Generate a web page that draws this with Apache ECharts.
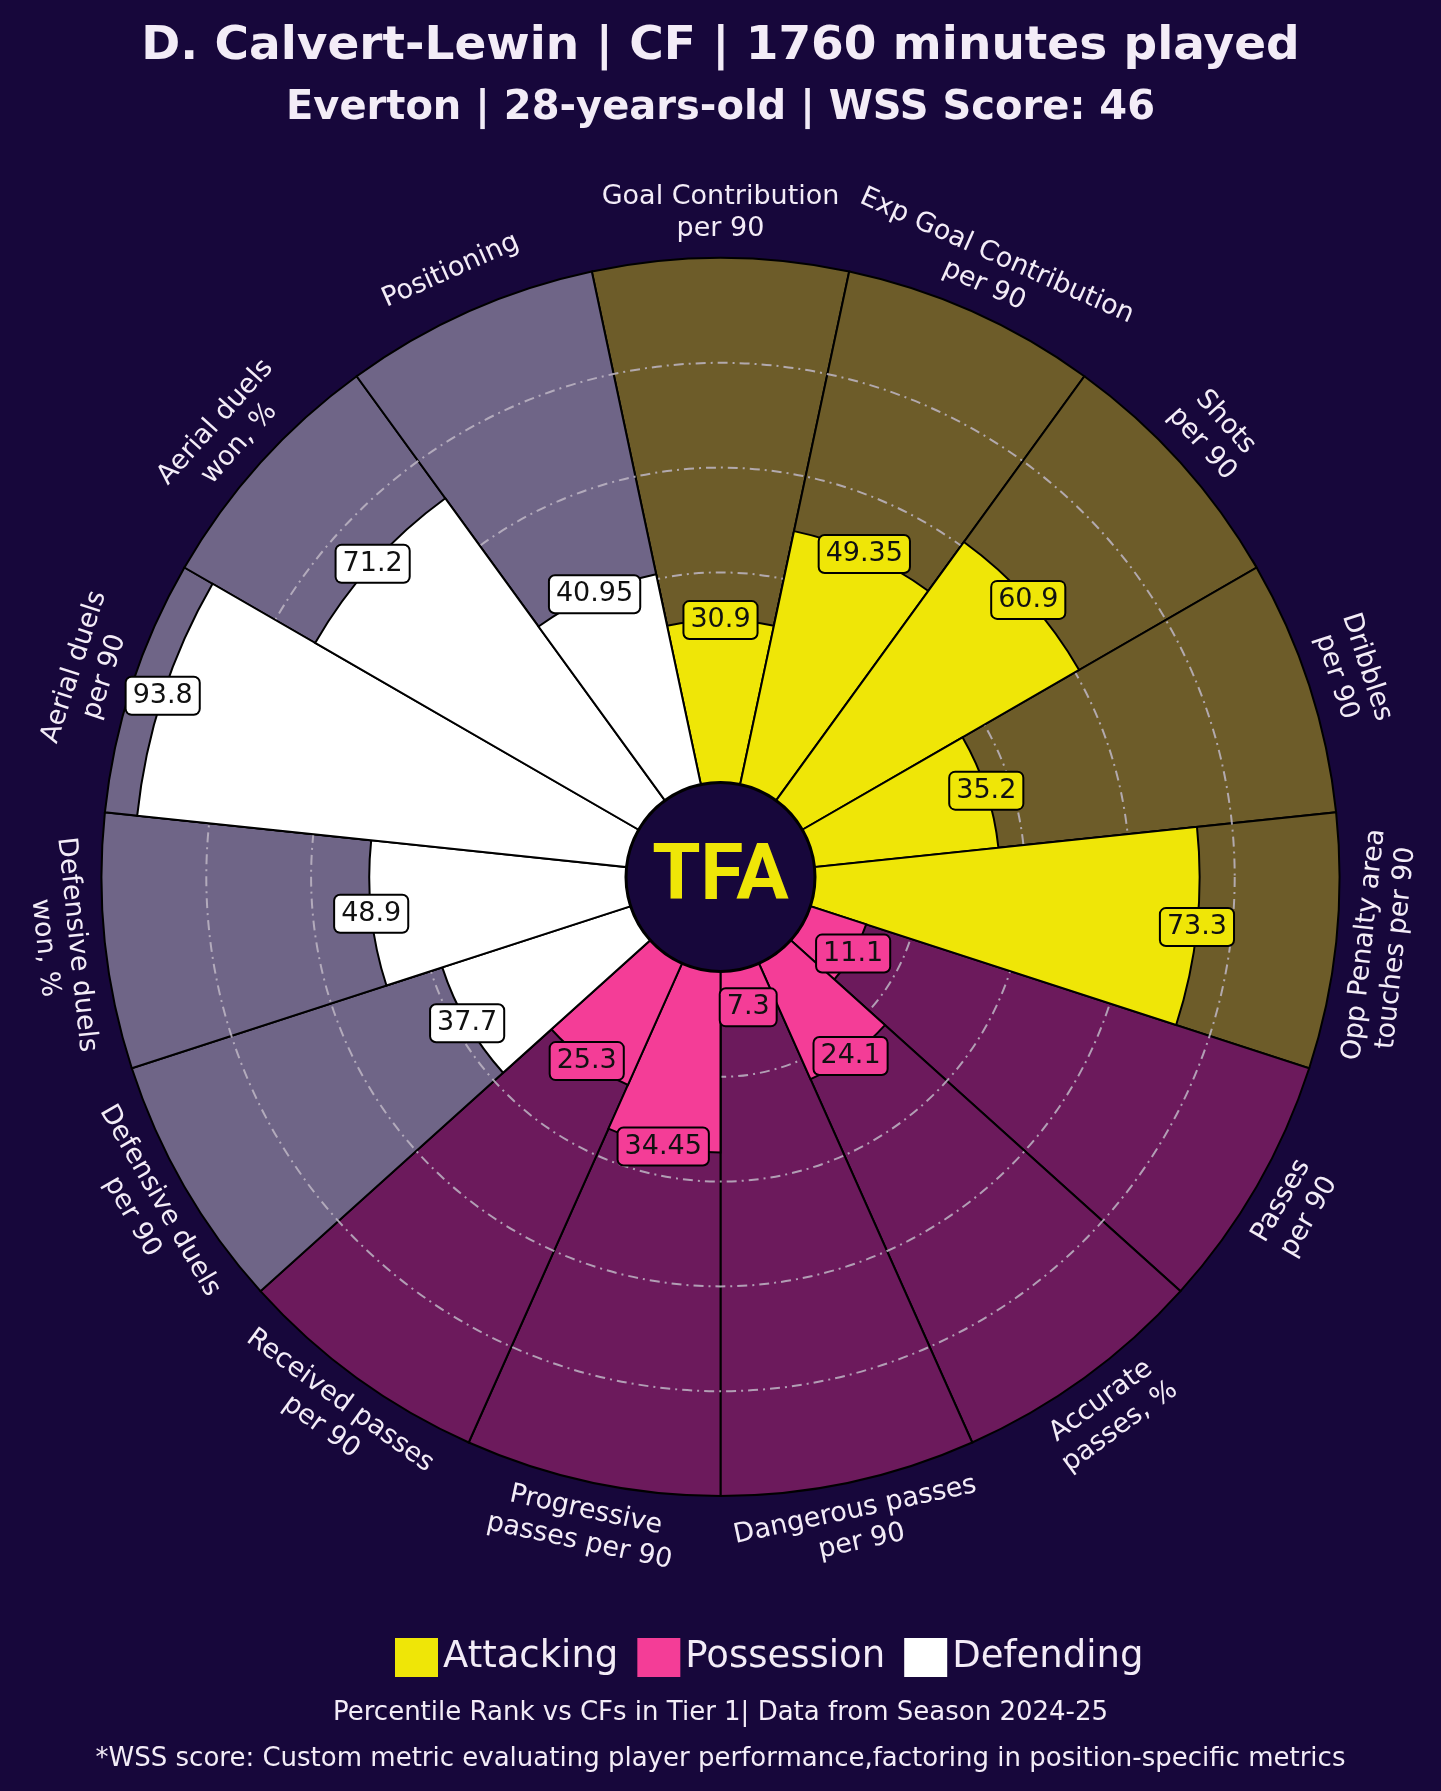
<!DOCTYPE html>
<html>
<head>
<meta charset="utf-8">
<script src="https://cdn.jsdelivr.net/npm/echarts@6/dist/echarts.min.js"></script>
<style>
html,body{margin:0;padding:0;background:#17073b;}
#c{width:1441px;height:1791px;}
</style>
</head>
<body>
<div id="c"></div>
<script>
// ---------- data ----------
const categories = [
  'Goal Contribution\nper 90',
  'Exp Goal Contribution\nper 90',
  'Shots\nper 90',
  'Dribbles\nper 90',
  'Opp Penalty area\ntouches per 90',
  'Passes\nper 90',
  'Accurate\npasses, %',
  'Dangerous passes\nper 90',
  'Progressive\npasses per 90',
  'Received passes\nper 90',
  'Defensive duels\nper 90',
  'Defensive duels\nwon, %',
  'Aerial duels\nper 90',
  'Aerial duels\nwon, %',
  'Positioning'
];
const groups = [
  'Attacking','Attacking','Attacking','Attacking','Attacking',
  'Possession','Possession','Possession','Possession','Possession',
  'Defending','Defending','Defending','Defending','Defending'
];
const values = [30.9, 49.35, 60.9, 35.2, 73.3, 11.1, 24.1, 7.3, 34.45, 25.3, 37.7, 48.9, 93.8, 71.2, 40.95];
const groupNames = ['Attacking', 'Possession', 'Defending'];
const fullScale = 100;
const gridTicks = [20, 40, 60, 80];

const titleText = 'D. Calvert-Lewin | CF | 1760 minutes played';
const subtitleText = 'Everton | 28-years-old | WSS Score: 46';
const footer1 = 'Percentile Rank vs CFs in Tier 1| Data from Season 2024-25';
const footer2 = '*WSS score: Custom metric evaluating player performance,factoring in position-specific metrics';

// ---------- style ----------
const BG = '#17073b';
const TEXT = '#f3ecf7';
const FONT = 'DejaVu Sans';
const barColor = { Attacking: '#efe607', Possession: '#f43d97', Defending: '#ffffff' };
const bgColor = { Attacking: '#6d5c29', Possession: '#6c1a5c', Defending: '#6f6587' };
const CX = 720.5, CY = 877, R0 = 95, R1 = 619;
const LABEL_R = 108.5;
const rAt = v => R0 + (R1 - R0) * v / fullScale;

function tangentRotation(i) {
  const theta = i * 360 / categories.length;
  if (theta <= 90) return -theta;
  if (theta >= 270) return 360 - theta;
  return 180 - theta;
}

const chart = echarts.init(document.getElementById('c'), null, { renderer: 'canvas' });

const fgSeries = groupNames.map(g => ({
  name: g,
  type: 'bar',
  coordinateSystem: 'polar',
  polarIndex: 0,
  data: values.map((v, i) => groups[i] === g ? v : '-'),
  barGap: '-100%',
  barCategoryGap: '0%',
  itemStyle: { color: barColor[g], borderColor: '#000', borderWidth: 2 },
  z: 4,
  silent: true
}));

const option = {
  backgroundColor: BG,
  animation: false,
  title: [
    { text: titleText, left: 'center', top: 18,
      textStyle: { fontFamily: FONT, fontSize: 47, fontWeight: 'bold', color: TEXT } },
    { text: subtitleText, left: 'center', top: 84,
      textStyle: { fontFamily: FONT, fontSize: 40, fontWeight: 'bold', color: TEXT } },
    { text: footer1, left: 'center', top: 1695,
      textStyle: { fontFamily: FONT, fontSize: 26, fontWeight: 'normal', color: TEXT } },
    { text: footer2, left: 'center', top: 1741,
      textStyle: { fontFamily: FONT, fontSize: 26, fontWeight: 'normal', color: TEXT } }
  ],
  legend: {
    data: groupNames,
    left: 390,
    top: 1633,
    icon: 'rect',
    itemWidth: 43,
    itemHeight: 39,
    itemGap: 19,
    selectedMode: false,
    itemStyle: { borderWidth: 0 },
    textStyle: { fontFamily: FONT, fontSize: 37, color: TEXT }
  },
  polar: [
    { center: [CX, CY], radius: [R0, R1] },
    { center: [CX, CY], radius: [rAt(gridTicks[0]), rAt(gridTicks[gridTicks.length - 1])] }
  ],
  angleAxis: [
    { polarIndex: 0, type: 'category', data: categories,
      startAngle: 90 + 180 / categories.length, clockwise: true,
      axisLine: { show: false }, axisTick: { show: false }, axisLabel: { show: false },
      splitLine: { show: false } },
    { polarIndex: 1, type: 'value', min: 0, max: 360, show: false }
  ],
  radiusAxis: [
    { polarIndex: 0, min: 0, max: fullScale,
      axisLine: { show: false }, axisTick: { show: false }, axisLabel: { show: false },
      splitLine: { show: false } },
    { polarIndex: 1, min: gridTicks[0], max: gridTicks[gridTicks.length - 1],
      interval: gridTicks[1] - gridTicks[0], z: 3,
      axisLine: { show: false }, axisTick: { show: false }, axisLabel: { show: false },
      splitLine: { show: true, lineStyle: { color: 'rgba(190,182,196,0.85)', width: 2, type: [10, 5, 2, 5] } } }
  ],
  series: [
    {
      name: 'background',
      type: 'bar',
      coordinateSystem: 'polar',
      polarIndex: 0,
      data: values.map((v, i) => ({ value: fullScale, itemStyle: { color: bgColor[groups[i]] } })),
      barGap: '-100%',
      barCategoryGap: '0%',
      itemStyle: { borderColor: '#000', borderWidth: 2 },
      z: 1,
      silent: true
    },
    ...fgSeries,
    {
      name: 'valueLabels',
      type: 'scatter',
      coordinateSystem: 'polar',
      polarIndex: 0,
      symbolSize: 0,
      clip: false,
      z: 120,
      silent: true,
      itemStyle: { opacity: 1 },
      data: values.map((v, i) => ({
        value: [v, i],
        label: { backgroundColor: barColor[groups[i]] }
      })),
      label: {
        show: true,
        position: 'inside',
        formatter: p => String(p.value[0]),
        fontFamily: FONT,
        fontSize: 27,
        color: '#111',
        opacity: 1,
        padding: [6, 6, 3, 6],
        borderColor: '#000',
        borderWidth: 2,
        borderRadius: 5
      }
    },
    {
      name: 'categoryLabels',
      type: 'scatter',
      coordinateSystem: 'polar',
      polarIndex: 0,
      symbolSize: 0,
      clip: false,
      z: 120,
      silent: true,
      itemStyle: { opacity: 1 },
      data: categories.map((c, i) => ({
        value: [LABEL_R, i],
        label: { rotate: tangentRotation(i) }
      })),
      label: {
        show: true,
        position: 'inside',
        formatter: p => categories[p.dataIndex],
        fontFamily: FONT,
        fontSize: 27,
        lineHeight: 32,
        align: 'center',
        opacity: 1,
        color: TEXT
      }
    }
  ],
  graphic: [
    { type: 'circle', z: 100, silent: true,
      shape: { cx: CX, cy: CY, r: 94 },
      style: { fill: BG, stroke: '#000', lineWidth: 2 } },
    { type: 'text', z: 101, silent: true,
      x: CX, y: CY + 2,
      style: { text: 'TFA', fill: '#efe607', font: 'bold 78px Roboto', align: 'center', verticalAlign: 'middle' } }
  ]
};

chart.setOption(option);
</script>
</body>
</html>
